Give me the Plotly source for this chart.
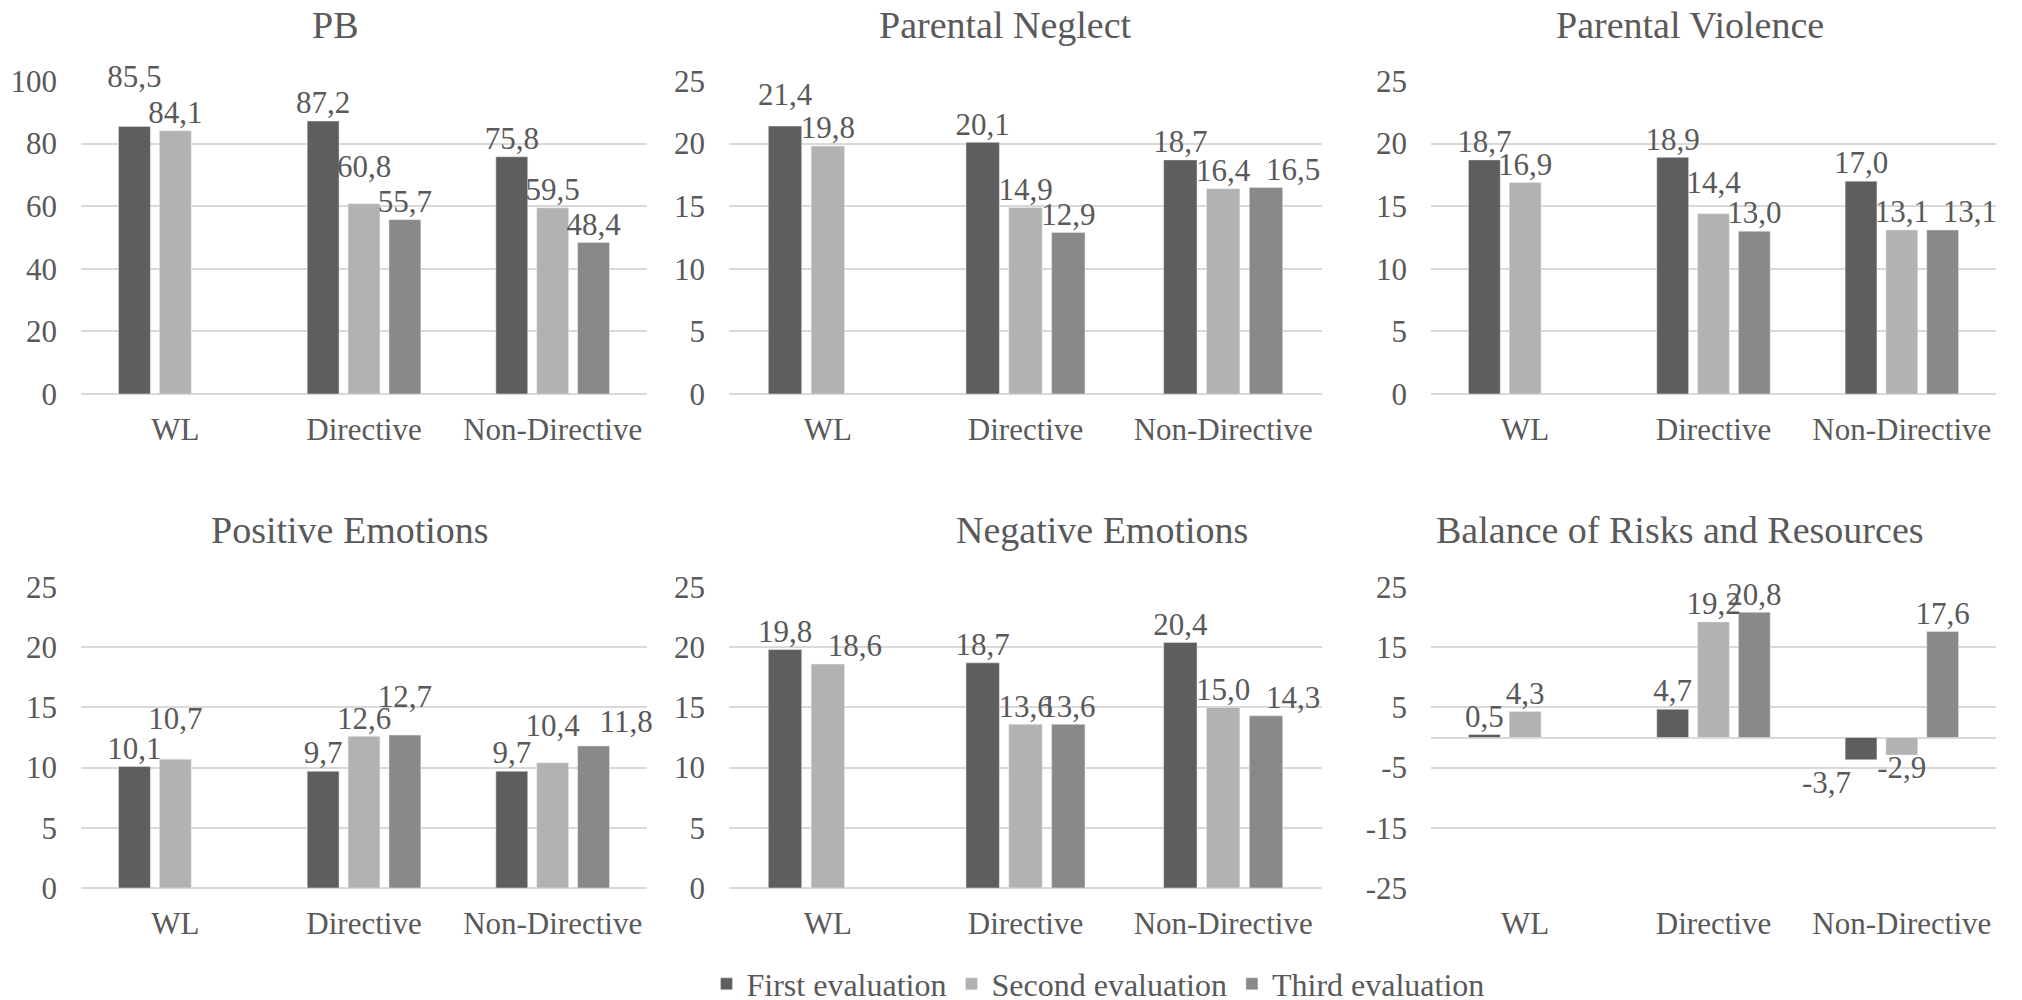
import plotly.graph_objects as go

categories = ["WL", "Directive", "Non-Directive"]
series_names = ["First evaluation", "Second evaluation", "Third evaluation"]
series_colors = ["#5e5e5e", "#b2b2b2", "#898989"]

titles = ["PB", "Parental Neglect", "Parental Violence",
          "Positive Emotions", "Negative Emotions", "Balance of Risks and Resources"]

pb_first = [85.5, 87.2, 75.8]
pb_second = [84.1, 60.8, 59.5]
pb_third = [None, 55.7, 48.4]

neglect_first = [21.4, 20.1, 18.7]
neglect_second = [19.8, 14.9, 16.4]
neglect_third = [None, 12.9, 16.5]

violence_first = [18.7, 18.9, 17.0]
violence_second = [16.9, 14.4, 13.1]
violence_third = [None, 13.0, 13.1]

positive_first = [10.1, 9.7, 9.7]
positive_second = [10.7, 12.6, 10.4]
positive_third = [None, 12.7, 11.8]

negative_first = [19.8, 18.7, 20.4]
negative_second = [18.6, 13.6, 15.0]
negative_third = [None, 13.6, 14.3]

balance_first = [0.5, 4.7, -3.7]
balance_second = [4.3, 19.2, -2.9]
balance_third = [None, 20.8, 17.6]

panels = [
    (pb_first, pb_second, pb_third),
    (neglect_first, neglect_second, neglect_third),
    (violence_first, violence_second, violence_third),
    (positive_first, positive_second, positive_third),
    (negative_first, negative_second, negative_third),
    (balance_first, balance_second, balance_third),
]

tick_vals = [
    [0, 20, 40, 60, 80, 100],
    [0, 5, 10, 15, 20, 25],
    [0, 5, 10, 15, 20, 25],
    [0, 5, 10, 15, 20, 25],
    [0, 5, 10, 15, 20, 25],
    [-25, -15, -5, 5, 15, 25],
]
tick_text = [
    ["0", "20", "40", "60", "80", "100"],
    ["0", "5", "10", "15", "20", "25"],
    ["0", "5", "10", "15", "20", "25"],
    ["0", "5", "10", "15", "20", "25"],
    ["0", "5", "10", "15", "20", "25"],
    ["-25", "-15", "-5", "5", "15", "25"],
]
y_ranges = [[0, 100], [0, 25], [0, 25], [0, 25], [0, 25], [-25, 25]]

# manual data-label placement as in the original (panel, series, category):
# (horizontal side, extra distance from bar end in px)
label_tweaks = {
    (0, 0, 0): ("center", 32), (0, 1, 1): ("center", 19),
    (1, 0, 0): ("center", 13), (1, 2, 2): ("right", 0),
    (2, 1, 1): ("center", 13), (2, 2, 2): ("right", 0),
    (3, 1, 0): ("center", 22), (3, 2, 1): ("center", 20),
    (3, 1, 2): ("center", 19), (3, 2, 2): ("right", 6),
    (4, 1, 0): ("right", 0), (4, 2, 2): ("right", 0),
    (5, 0, 2): ("left", 10),
}

FONT = "Times New Roman, Liberation Serif, DejaVu Serif, serif"
TXT = "#595959"
GRID = "#d9d9d9"
BARGAP = 0.35

W, H = 2022, 1000
OFF = 8  # default page body margin
col_px = [(81, 647), (729, 1322), (1431, 1996)]
row_px = [(81, 394), (587, 888)]
title_pos_px = [(335, 25), (1005, 25), (1690, 25), (350, 530), (1102, 530), (1680, 530)]
legend_px = (1098, 984)

def px_x(v):
    return (v - OFF) / W

def px_y(v):
    return 1 - (v - OFF) / H

x_domains = [[px_x(a), px_x(b)] for a, b in col_px]
y_domains = [[px_y(b), px_y(a)] for a, b in row_px]

def fmt(v):
    return "" if v is None else f"{v:.1f}".replace(".", ",")

fig = go.Figure()
annotations = []
for i, (vals, title) in enumerate(zip(panels, titles)):
    r, c = divmod(i, 3)
    n = i + 1
    xa = "x" if n == 1 else f"x{n}"
    ya = "y" if n == 1 else f"y{n}"
    for s, (name, color, v) in enumerate(zip(series_names, series_colors, vals)):
        fig.add_trace(go.Bar(
            x=categories, y=v, name=name, marker_color=color,
            xaxis=xa, yaxis=ya, showlegend=(i == 0), legendgroup=name,
            offsetgroup=f"g{s}", hoverinfo="skip",
        ))
    # data labels, grouped the same way as the bars
    for s, (name, v) in enumerate(zip(series_names, vals)):
        positions, sizes = [], []
        for k, t in enumerate(v):
            side, lift = label_tweaks.get((i, s, k), ("center", 0))
            vert = "bottom" if (t is not None and t < 0) else "top"
            positions.append(f"{vert} {side}")
            sizes.append(1.6 * (lift - 1) if lift > 1 else 0)
        fig.add_trace(go.Scatter(
            x=categories, y=v, mode="markers+text",
            marker=dict(size=sizes, opacity=0, color="white"),
            text=[fmt(t) for t in v], textposition=positions,
            textfont=dict(family=FONT, size=31, color=TXT),
            cliponaxis=False, showlegend=False, hoverinfo="skip",
            xaxis=xa, yaxis=ya, offsetgroup=f"g{s}", orientation="v",
        ))
    fig.layout[f"xaxis{'' if n == 1 else n}"] = dict(
        domain=x_domains[c], anchor=ya, type="category",
        showgrid=False, showline=False, ticks="", zeroline=False,
        tickfont=dict(family=FONT, size=31, color=TXT), ticklabelstandoff=14,
    )
    fig.layout[f"yaxis{'' if n == 1 else n}"] = dict(
        domain=y_domains[r], anchor=xa, range=y_ranges[i],
        tickvals=tick_vals[i], ticktext=tick_text[i],
        showgrid=True, gridcolor=GRID, gridwidth=2,
        zeroline=True, zerolinecolor=GRID, zerolinewidth=2,
        showline=False, ticks="",
        tickfont=dict(family=FONT, size=31, color=TXT), ticklabelstandoff=23,
    )
    tx, ty = title_pos_px[i]
    annotations.append(dict(
        text=title, x=px_x(tx), y=px_y(ty), xref="paper", yref="paper",
        xanchor="center", yanchor="middle", showarrow=False,
        font=dict(family=FONT, size=38, color=TXT),
    ))

fig.update_layout(
    width=W, height=H,
    margin=dict(l=0, r=0, t=0, b=0, autoexpand=False),
    paper_bgcolor="white", plot_bgcolor="white",
    barmode="group", bargap=BARGAP, bargroupgap=0.22,
    scattermode="group", scattergap=BARGAP,
    annotations=annotations,
    legend=dict(orientation="h", x=px_x(legend_px[0]), xanchor="center",
                y=px_y(legend_px[1]), yanchor="middle",
                font=dict(family=FONT, size=32, color=TXT), itemwidth=30,
                traceorder="normal"),
    font=dict(family=FONT, color=TXT),
)

fig.write_html("out.html")
